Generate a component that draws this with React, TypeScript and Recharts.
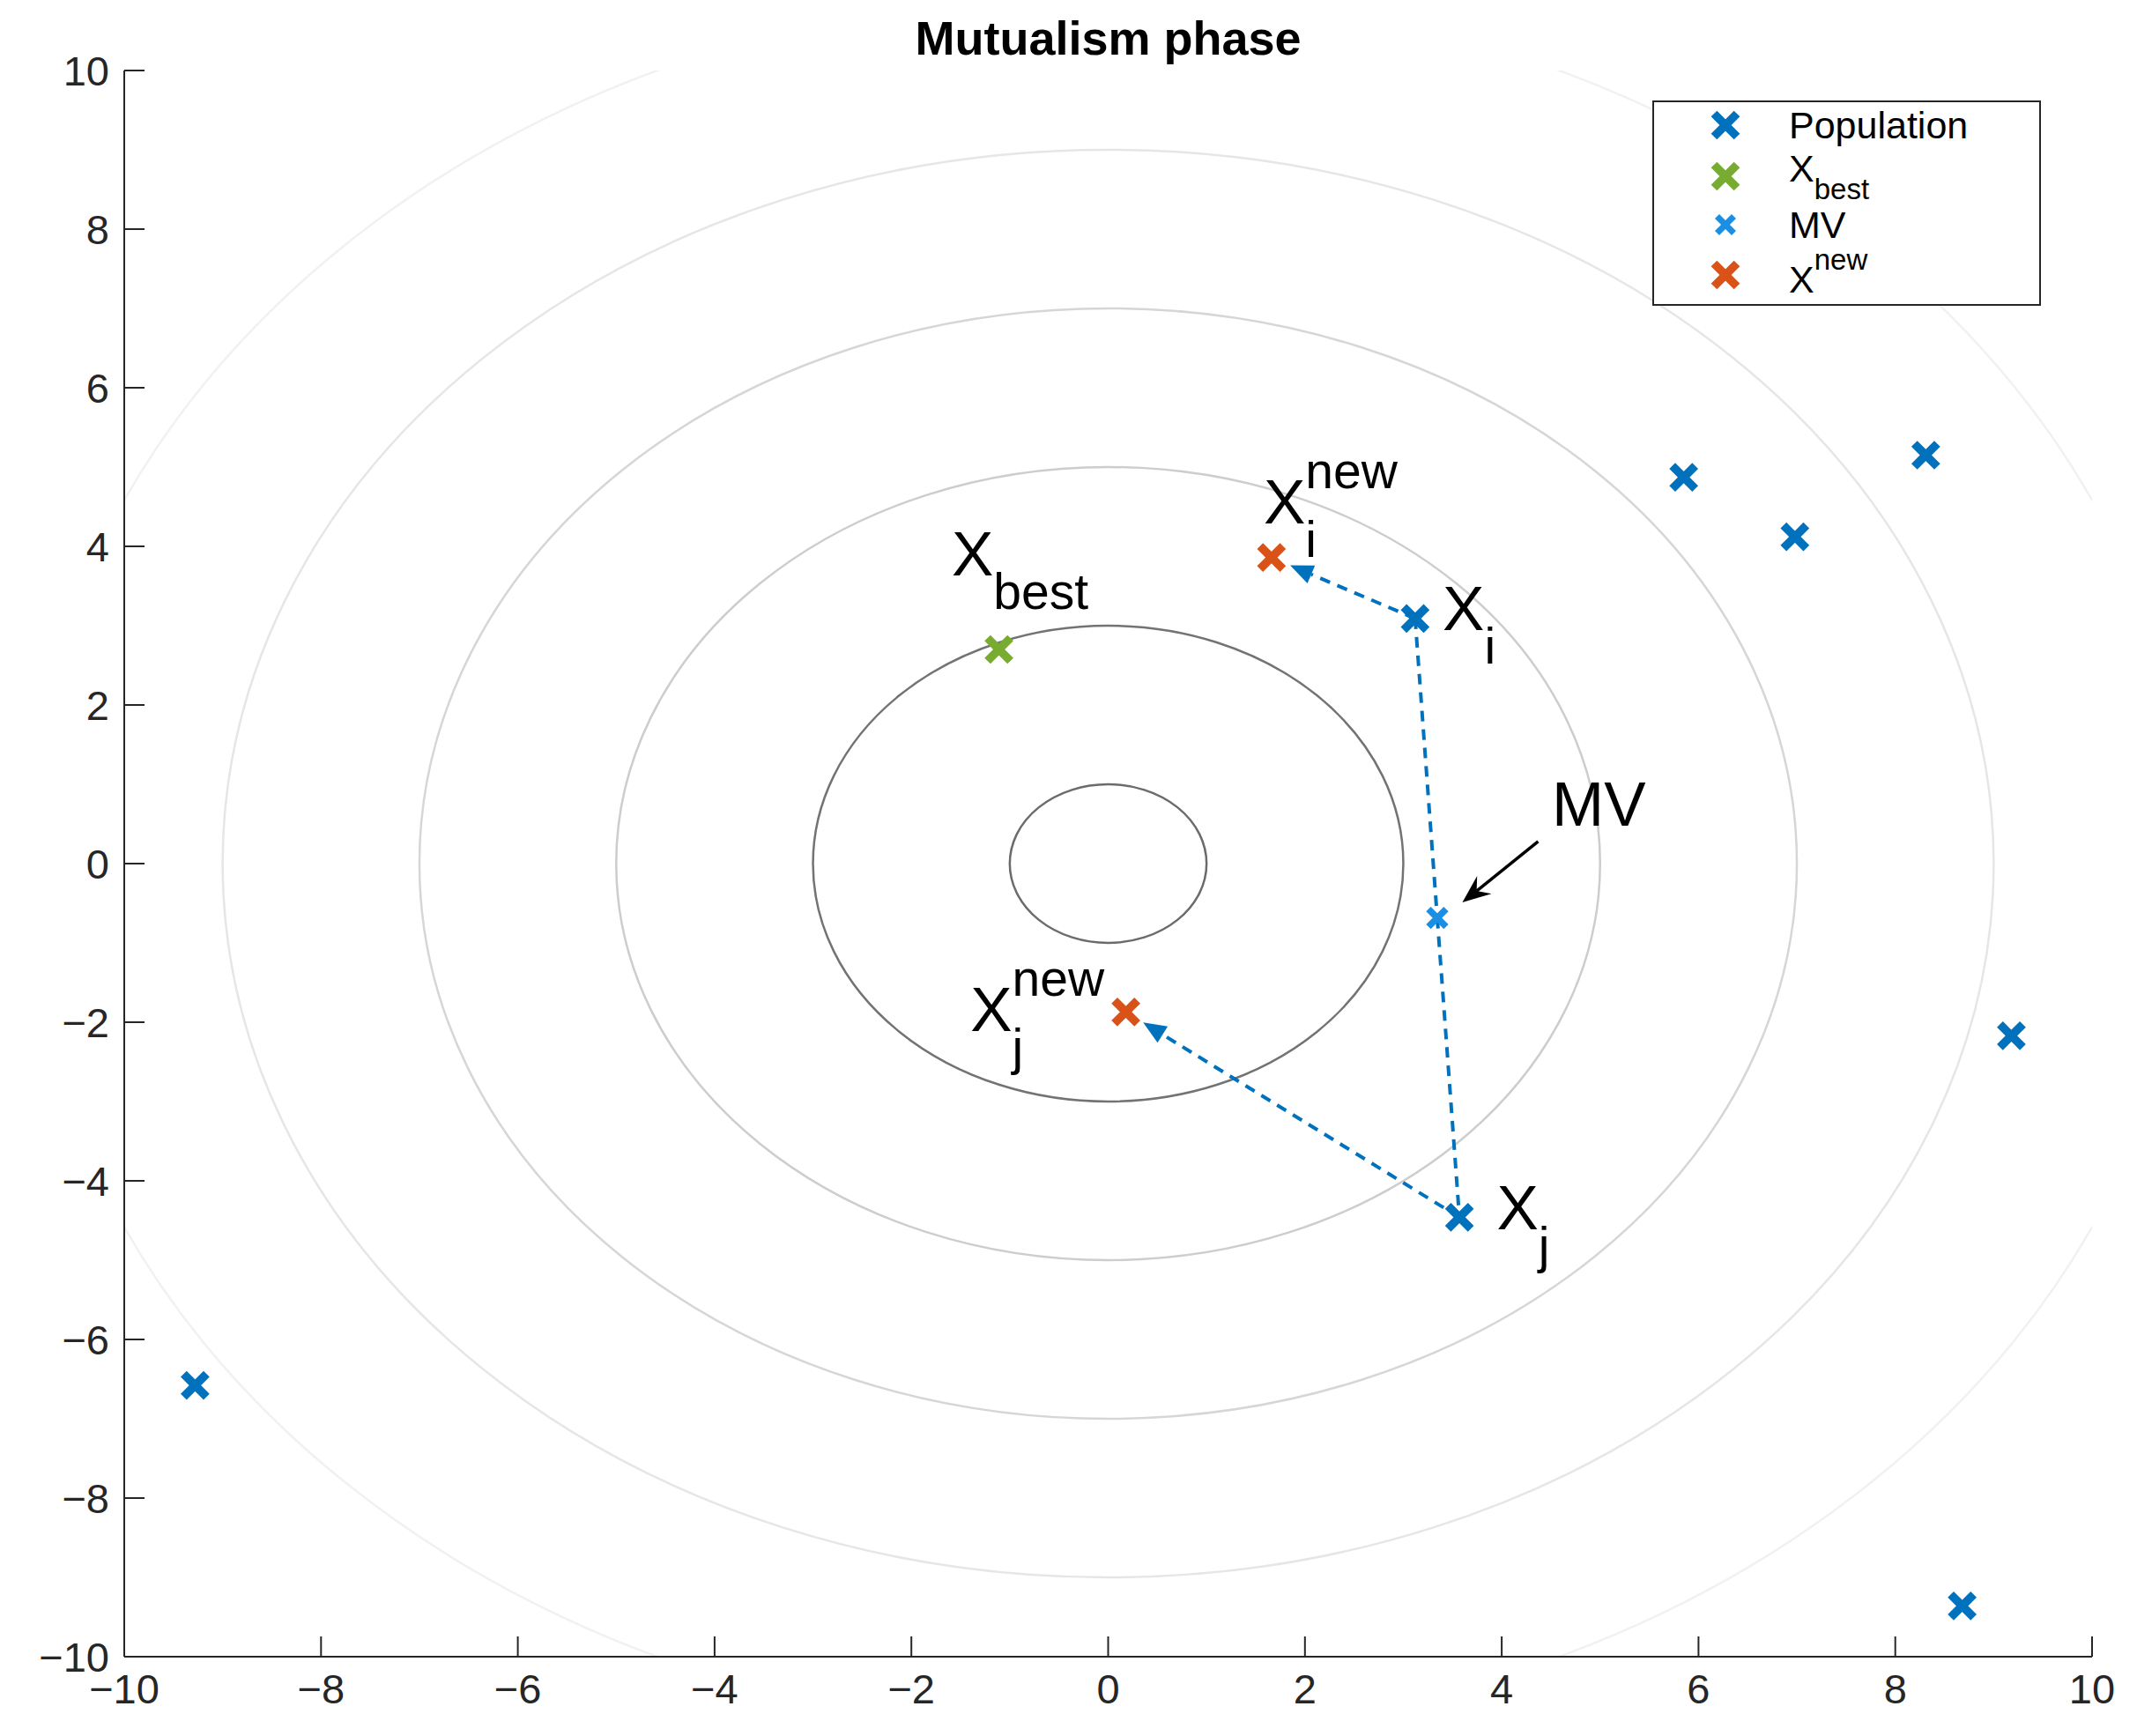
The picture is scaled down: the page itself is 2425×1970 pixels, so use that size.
import React from 'react';
import {
  ScatterChart,
  Scatter,
  XAxis,
  YAxis,
  ReferenceArea,
  ReferenceLine,
  ReferenceDot,
  Legend,
} from 'recharts';

// values
const population = [
  { x: 5.85, y: 4.87 },
  { x: 8.31, y: 5.15 },
  { x: 6.98, y: 4.12 },
  { x: 9.18, y: -2.17 },
  { x: 8.68, y: -9.36 },
  { x: -9.28, y: -6.58 },
  { x: 3.12, y: 3.09 }, // X_i
  { x: 3.57, y: -4.46 }, // X_j
];
const xBest = [{ x: -1.11, y: 2.7 }];
const mutualVector = [{ x: 3.345, y: -0.685 }];
const xNew = [
  { x: 1.66, y: 3.86 }, // X_i new
  { x: 0.18, y: -1.87 }, // X_j new
];
const contourRadii = [1, 3, 5, 7, 9, 11];
const axisTicks = [-10, -8, -6, -4, -2, 0, 2, 4, 6, 8, 10];

const xi = population[6];
const xj = population[7];
const links = [
  [xi, mutualVector[0]],
  [mutualVector[0], xj],
];
const moves = [
  [xi, xNew[0]],
  [xj, xNew[1]],
];
const mvPointer = [
  { x: 4.37, y: 0.28 },
  { x: 3.6, y: -0.49 },
];
const annotations = [
  { x: -1.59, y: 3.63, main: 'X', sub: 'best' },
  { x: 1.58, y: 4.29, main: 'X', sub: 'i', sup: 'new' },
  { x: 3.4, y: 2.94, main: 'X', sub: 'i' },
  { x: -1.4, y: -2.11, main: 'X', sub: 'j', sup: 'new' },
  { x: 3.95, y: -4.61, main: 'X', sub: 'j' },
  { x: 4.51, y: 0.48, main: 'MV' },
];
const legendOrder = ['Population', 'Xbest', 'MV', 'Xnew'];
const legendLabels: Record<string, { main: string; sub?: string; sup?: string }> = {
  Population: { main: 'Population' },
  Xbest: { main: 'X', sub: 'best' },
  MV: { main: 'MV' },
  Xnew: { main: 'X', sup: 'new' },
};

const FONT = '"Liberation Sans", Arial, Helvetica, sans-serif';
const BLUE = '#0072BD';
const GREEN = '#77AC30';
const LIGHT_BLUE = '#1A8FE3';
const ORANGE = '#D95319';
const AXIS = '#262626';
const contourColors = ['#6b6b6b', '#737373', '#cdcdcd', '#d6d6d6', '#e6e6e6', '#f1f1f1'];

const fmt = (v: number) => (v < 0 ? `\u2212${Math.abs(v)}` : String(v));

function crossMark(cx: number, cy: number, half: number, w: number, color: string) {
  return (
    <g>
      <line x1={cx - half} y1={cy - half} x2={cx + half} y2={cy + half} stroke={color} strokeWidth={w} />
      <line x1={cx - half} y1={cy + half} x2={cx + half} y2={cy - half} stroke={color} strokeWidth={w} />
    </g>
  );
}

const crossShape = (half: number, w: number, color: string) => (props: any) =>
  crossMark(props.cx, props.cy, half, w, color);

function ellipseShape(color: string) {
  return (props: any) => {
    const { x, y, width, height } = props;
    return (
      <ellipse
        cx={x + width / 2}
        cy={y + height / 2}
        rx={width / 2}
        ry={height / 2}
        fill="none"
        stroke={color}
        strokeWidth={2.5}
        clipPath={props.clipPath}
      />
    );
  };
}

function dashedArrow(props: any) {
  const { x1, y1, x2, y2 } = props;
  const dx = x2 - x1;
  const dy = y2 - y1;
  const len = Math.hypot(dx, dy) || 1;
  const ux = dx / len;
  const uy = dy / len;
  const tipX = x2 - ux * 23;
  const tipY = y2 - uy * 23;
  const headLen = 26;
  const headW = 11;
  const bx = tipX - ux * headLen;
  const by = tipY - uy * headLen;
  const px = -uy;
  const py = ux;
  return (
    <g>
      <line x1={x1} y1={y1} x2={bx} y2={by} stroke={BLUE} strokeWidth={4} strokeDasharray="12 9" />
      <polygon
        points={`${tipX},${tipY} ${bx + px * headW},${by + py * headW} ${bx - px * headW},${by - py * headW}`}
        fill={BLUE}
      />
    </g>
  );
}

function pointerArrow(props: any) {
  const { x1, y1, x2, y2 } = props;
  const dx = x2 - x1;
  const dy = y2 - y1;
  const len = Math.hypot(dx, dy) || 1;
  const ux = dx / len;
  const uy = dy / len;
  const px = -uy;
  const py = ux;
  const headLen = 32;
  const headW = 13;
  const bx = x2 - ux * headLen;
  const by = y2 - uy * headLen;
  const nx = x2 - ux * headLen * 0.65;
  const ny = y2 - uy * headLen * 0.65;
  return (
    <g>
      <line x1={x1} y1={y1} x2={nx} y2={ny} stroke="#000" strokeWidth={3.5} />
      <polygon
        points={`${x2},${y2} ${bx + px * headW},${by + py * headW} ${nx},${ny} ${bx - px * headW},${by - py * headW}`}
        fill="#000"
      />
    </g>
  );
}

function annotationShape(a: { main: string; sub?: string; sup?: string }) {
  return (props: any) => {
    const { cx, cy } = props;
    const size = 71;
    const small = 57;
    const mainW = a.main === 'X' ? 0.667 * size : 1.5 * size;
    return (
      <g fontFamily={FONT} fill="#000">
        <text x={cx} y={cy} fontSize={size}>
          {a.main}
        </text>
        {a.sub && (
          <text x={cx + mainW} y={cy + 38} fontSize={small}>
            {a.sub}
          </text>
        )}
        {a.sup && (
          <text x={cx + mainW} y={cy - 40} fontSize={small}>
            {a.sup}
          </text>
        )}
      </g>
    );
  };
}

const legendRows = [28, 86, 141, 198];
const legendMarkers: Record<string, [number, number]> = {
  Population: [13, 9.5],
  Xbest: [13, 9.5],
  MV: [9.5, 7],
  Xnew: [13, 9.5],
};

function LegendBox(props: any) {
  const items = (props.payload || [])
    .filter((p: any) => legendLabels[p.value])
    .sort((a: any, b: any) => legendOrder.indexOf(a.value) - legendOrder.indexOf(b.value));
  return (
    <svg width={441} height={233} style={{ display: 'block' }}>
      <rect x={1} y={1} width={439} height={231} fill="#fff" stroke={AXIS} strokeWidth={2} />
      {items.map((p: any, i: number) => {
        const lab = legendLabels[p.value];
        const cy = legendRows[i];
        const [half, w] = legendMarkers[p.value];
        let base = cy + 15;
        if (lab.sub) base = cy + 6;
        if (lab.sup) base = cy + 20;
        return (
          <g key={p.value}>
            {crossMark(83, cy, half, w, p.color)}
            <text x={155} y={base} fontSize={43} fontFamily={FONT} fill="#000">
              {lab.main}
              {lab.sub && (
                <tspan dy={20} fontSize={33}>
                  {lab.sub}
                </tspan>
              )}
              {lab.sup && (
                <tspan dy={-26} fontSize={33}>
                  {lab.sup}
                </tspan>
              )}
            </text>
          </g>
        );
      })}
    </svg>
  );
}

const tickStyle = { fontSize: 47, fill: AXIS, fontFamily: FONT };
const lineStyle = { stroke: AXIS, strokeWidth: 2 };

export default function App() {
  return (
    <div style={{ position: 'absolute', left: 0, top: 0, width: 2425, height: 1970, background: '#fff' }}>
      <div
        style={{
          position: 'absolute',
          left: 141,
          top: 16,
          width: 2233,
          textAlign: 'center',
          fontFamily: FONT,
          fontWeight: 'bold',
          fontSize: 54,
          lineHeight: '54px',
          color: '#000',
          zIndex: 2,
        }}
      >
        Mutualism phase
      </div>
      <ScatterChart width={2425} height={1970} margin={{ top: 80, right: 51, bottom: 0, left: 0 }}>
        <XAxis
          type="number"
          dataKey="x"
          domain={[-10, 10]}
          ticks={axisTicks}
          interval={0}
          allowDataOverflow
          height={90}
          tickSize={-23}
          tickMargin={43}
          tick={tickStyle}
          tickFormatter={fmt}
          axisLine={lineStyle}
          tickLine={lineStyle}
        />
        <XAxis
          xAxisId="top"
          orientation="top"
          type="number"
          domain={[-10, 10]}
          ticks={axisTicks}
          interval={0}
          allowDataOverflow
          height={0}
          tickSize={-23}
          tick={false}
          axisLine={lineStyle}
          tickLine={lineStyle}
        />
        <YAxis
          type="number"
          dataKey="y"
          domain={[-10, 10]}
          ticks={axisTicks}
          interval={0}
          allowDataOverflow
          width={141}
          tickSize={-23}
          tickMargin={40}
          tick={tickStyle}
          tickFormatter={fmt}
          axisLine={lineStyle}
          tickLine={lineStyle}
        />
        <YAxis
          yAxisId="right"
          orientation="right"
          type="number"
          domain={[-10, 10]}
          ticks={axisTicks}
          interval={0}
          allowDataOverflow
          width={0}
          tickSize={-23}
          tick={false}
          axisLine={lineStyle}
          tickLine={lineStyle}
        />

        {contourRadii.map((r, i) => (
          <ReferenceArea
            key={`c${r}`}
            x1={-r}
            x2={r}
            y1={-r}
            y2={r}
            ifOverflow="hidden"
            shape={ellipseShape(contourColors[i])}
          />
        ))}

        {links.map(([a, b], i) => (
          <ReferenceLine
            key={`l${i}`}
            segment={[
              { x: a.x, y: a.y },
              { x: b.x, y: b.y },
            ]}
            stroke={BLUE}
            strokeWidth={4}
            strokeDasharray="12 9"
          />
        ))}
        {moves.map(([a, b], i) => (
          <ReferenceLine
            key={`m${i}`}
            segment={[
              { x: a.x, y: a.y },
              { x: b.x, y: b.y },
            ]}
            shape={dashedArrow}
          />
        ))}
        <ReferenceLine
          segment={[
            { x: mvPointer[0].x, y: mvPointer[0].y },
            { x: mvPointer[1].x, y: mvPointer[1].y },
          ]}
          shape={pointerArrow}
        />

        <Scatter name="Population" data={population} fill={BLUE} shape={crossShape(13, 9.5, BLUE)} isAnimationActive={false} />
        <Scatter name="Xbest" data={xBest} fill={GREEN} shape={crossShape(13, 9.5, GREEN)} isAnimationActive={false} />
        <Scatter name="MV" data={mutualVector} fill={LIGHT_BLUE} shape={crossShape(10, 7.5, LIGHT_BLUE)} isAnimationActive={false} />
        <Scatter name="Xnew" data={xNew} fill={ORANGE} shape={crossShape(13, 9.5, ORANGE)} isAnimationActive={false} />

        {annotations.map((a, i) => (
          <ReferenceDot key={`a${i}`} x={a.x} y={a.y} r={0} shape={annotationShape(a)} />
        ))}

        <Legend
          layout="vertical"
          align="center"
          verticalAlign="middle"
          content={<LegendBox />}
          wrapperStyle={{ position: 'absolute', left: 1875, top: 114, width: 441, height: 233 }}
        />
      </ScatterChart>
    </div>
  );
}
